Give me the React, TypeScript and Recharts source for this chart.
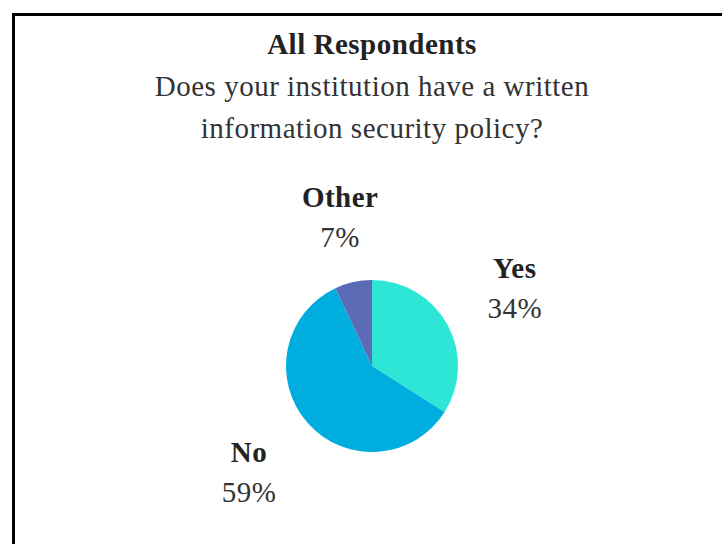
import React from "react";
import { PieChart, Pie, Cell } from "recharts";

const categories = ["Yes", "No", "Other"];
const values = [34, 59, 7];
const colors = ["#2EE6D6", "#00ADDF", "#5B6BB5"];
const titleLines = ["All Respondents", "Does your institution have a written", "information security policy?"];

const data = categories.map((name, i) => ({ name, value: values[i] }));

const FONT = "'Liberation Serif', 'Times New Roman', serif";
const RADIAN = Math.PI / 180;
const FS = 29;
const LS = 0.5;

const renderLabel = (props: any) => {
  const { cx, cy, midAngle, name, value } = props;
  const sn = Math.sin(midAngle * RADIAN);
  const cs = Math.cos(midAngle * RADIAN);
  const sp = Math.max(0, sn);
  const rx = 164 - 20 * Math.pow(sp, 4);
  const x = cx + rx * cs;
  const y = cy - 164 * sn + 8 + 14 * sp * sp;
  return (
    <g>
      <text x={x} y={y - 20} textAnchor="middle" fontFamily={FONT} fontSize={FS} letterSpacing={LS} fontWeight="bold" fill="#222">
        {name}
      </text>
      <text x={x} y={y + 20} textAnchor="middle" fontFamily={FONT} fontSize={FS} letterSpacing={LS} fill="#333">
        {value}%
      </text>
    </g>
  );
};

export default function App() {
  return (
    <div style={{ position: "fixed", left: 0, top: 0, width: 722, height: 544, background: "#fff", overflow: "hidden" }}>
      <div
        style={{
          position: "absolute",
          left: 12,
          top: 13,
          width: 720,
          height: 540,
          borderLeft: "3px solid #000",
          borderTop: "3px solid #000",
        }}
      />
      <div style={{ position: "absolute", left: 0, top: 0 }}>
        <PieChart width={722} height={544} margin={{ top: 0, right: 0, bottom: 0, left: 0 }}>
          <text x={372} y={54} textAnchor="middle" fontFamily={FONT} fontSize={FS} letterSpacing={LS} fontWeight="bold" fill="#222">
            {titleLines[0]}
          </text>
          <text x={372} y={96} textAnchor="middle" fontFamily={FONT} fontSize={FS} letterSpacing={LS} fill="#333">
            {titleLines[1]}
          </text>
          <text x={372} y={138} textAnchor="middle" fontFamily={FONT} fontSize={FS} letterSpacing={LS} fill="#333">
            {titleLines[2]}
          </text>
          <Pie
            data={data}
            dataKey="value"
            nameKey="name"
            cx={372}
            cy={366}
            outerRadius={86}
            startAngle={90}
            endAngle={-270}
            stroke="none"
            label={renderLabel}
            labelLine={false}
            isAnimationActive={false}
          >
            {data.map((d, i) => (
              <Cell key={d.name} fill={colors[i]} />
            ))}
          </Pie>
        </PieChart>
      </div>
    </div>
  );
}
